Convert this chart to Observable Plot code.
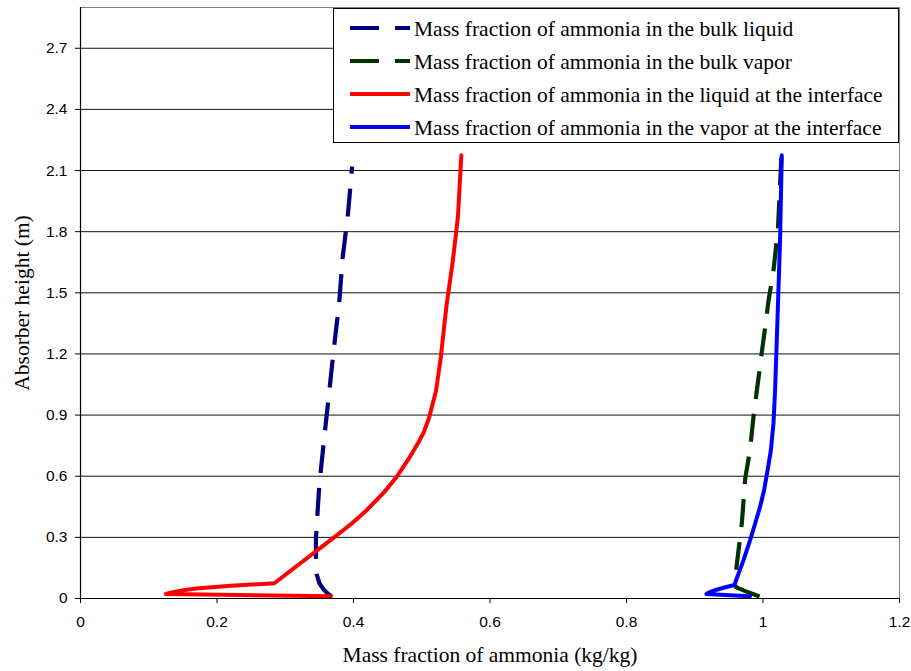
<!DOCTYPE html>
<html>
<head>
<meta charset="utf-8">
<script src="https://cdn.jsdelivr.net/npm/d3@7"></script>
<script src="https://cdn.jsdelivr.net/npm/@observablehq/plot@0.6"></script>
<style>
  html, body { margin: 0; padding: 0; background: #fff; }
  #wrap { position: relative; width: 911px; height: 671px; }
  #legend { position: absolute; left: 333px; top: 8px; }
</style>
</head>
<body>
<div id="wrap"></div>
<script>
// ---- data ----
const xTicks = [0, 0.2, 0.4, 0.6, 0.8, 1, 1.2];
const xTickLabels = ["0", "0.2", "0.4", "0.6", "0.8", "1", "1.2"];
const yTicks = [0, 0.3, 0.6, 0.9, 1.2, 1.5, 1.8, 2.1, 2.4, 2.7];
const yTickLabels = ["0", "0.3", "0.6", "0.9", "1.2", "1.5", "1.8", "2.1", "2.4", "2.7"];

const xTitle = "Mass fraction of ammonia (kg/kg)";
const yTitle = "Absorber height (m)";

const seriesNames = [
  "Mass fraction of ammonia in the bulk liquid",
  "Mass fraction of ammonia in the bulk vapor",
  "Mass fraction of ammonia in the liquid at the interface",
  "Mass fraction of ammonia in the vapor at the interface"
];
const seriesColors = ["#000080", "#003300", "#ff0000", "#0000ff"];
const seriesDash = ["28,15", "28,15", null, null];

// bulk liquid
const liqBulkX = [0.368, 0.362, 0.356, 0.350, 0.346, 0.345, 0.345, 0.350, 0.357, 0.364, 0.371, 0.379, 0.384, 0.392, 0.398];
const liqBulkY = [0.01, 0.025, 0.045, 0.075, 0.12, 0.20, 0.30, 0.56, 0.785, 1.0, 1.22, 1.45, 1.67, 1.89, 2.12];
// bulk vapor
const vapBulkX = [0.995, 0.975, 0.960, 0.961, 0.969, 0.974, 0.981, 0.986, 0.991, 0.996, 1.0045, 1.008, 1.015, 1.018, 1.022, 1.027];
const vapBulkY = [0.01, 0.035, 0.056, 0.15, 0.37, 0.59, 0.73, 0.89, 1.02, 1.15, 1.365, 1.46, 1.60, 1.69, 1.82, 2.17];
// liquid at interface
const liqIntX = [0.367, 0.125, 0.135, 0.15, 0.17, 0.22, 0.284, 0.372, 0.397, 0.419, 0.445, 0.463, 0.481, 0.494, 0.503, 0.511, 0.521, 0.528, 0.536, 0.5456, 0.553, 0.558];
const liqIntY = [0.011, 0.022, 0.031, 0.040, 0.049, 0.062, 0.075, 0.301, 0.367, 0.432, 0.522, 0.596, 0.686, 0.759, 0.816, 0.89, 1.021, 1.185, 1.43, 1.659, 1.872, 2.175];
// vapor at interface
const vapIntX = [0.981, 0.917, 0.923, 0.932, 0.945, 0.958, 0.9713, 0.981, 0.9884, 0.9955, 1.0015, 1.0075, 1.0115, 1.0153, 1.0177, 1.0202, 1.0226, 1.025, 1.0275];
const vapIntY = [0.011, 0.022, 0.033, 0.043, 0.055, 0.066, 0.187, 0.285, 0.367, 0.448, 0.530, 0.645, 0.727, 0.858, 1.021, 1.267, 1.512, 1.757, 2.175];

const seriesX = [liqBulkX, vapBulkX, liqIntX, vapIntX];
const seriesY = [liqBulkY, vapBulkY, liqIntY, vapIntY];

// ---- chart ----
const serif = "'Liberation Serif', 'Times New Roman', serif";
const sans = "'Liberation Sans', Arial, sans-serif";
const titleSize = 21.5;

const lineMarks = seriesX.map((xs, i) =>
  Plot.line(seriesY[i], {
    x: xs,
    y: seriesY[i],
    curve: "linear",
    stroke: seriesColors[i],
    strokeWidth: seriesDash[i] ? 4.2 : 4,
    strokeDasharray: seriesDash[i] || undefined,
    strokeLinejoin: "round",
    strokeLinecap: seriesDash[i] ? "butt" : "round"
  })
);

const chart = Plot.plot({
  width: 911,
  height: 671,
  marginLeft: 80,
  marginRight: 12,
  marginTop: 7,
  marginBottom: 73,
  style: { fontFamily: sans, fontSize: "15.5px", color: "#000", background: "#fff", overflow: "visible" },
  x: { domain: [0, 1.2] },
  y: { domain: [0, 2.9] },
  marks: [
    Plot.frame({ stroke: "#808080" }),
    Plot.ruleY(yTicks.filter(d => d > 0), { stroke: "#111", strokeWidth: 1 }),
    ...lineMarks,
    Plot.ruleX([0], { stroke: "#000", strokeWidth: 1.2 }),
    Plot.ruleY([0], { stroke: "#000", strokeWidth: 1.2 }),
    Plot.axisX({ ticks: xTicks, tickFormat: d => xTickLabels[xTicks.indexOf(d)], tickSize: 5, tickPadding: 12, label: null }),
    Plot.axisY({ ticks: yTicks, tickFormat: d => yTickLabels[yTicks.indexOf(d)], tickSize: 5, tickPadding: 8, label: null }),
    Plot.text([xTitle], { text: d => d, frameAnchor: "bottom", dy: 57, lineAnchor: "middle", textAnchor: "middle", fontFamily: serif, fontSize: titleSize }),
    Plot.text([yTitle], { text: d => d, frameAnchor: "left", dx: -58, rotate: -90, lineAnchor: "middle", textAnchor: "middle", fontFamily: serif, fontSize: titleSize })
  ]
});

const wrap = document.getElementById("wrap");
wrap.appendChild(chart);

// ---- legend (overlay inside plot area) ----
const lw = 565, lh = 134;
const leg = d3.create("svg")
  .attr("id", "legend")
  .attr("width", lw + 1)
  .attr("height", lh + 1);
leg.append("rect")
  .attr("x", 0.5).attr("y", 0.5).attr("width", lw).attr("height", lh)
  .attr("fill", "#fff").attr("stroke", "#000").attr("stroke-width", 1);
seriesNames.forEach((name, i) => {
  const cy = 20 + i * 33;
  leg.append("line")
    .attr("x1", 17).attr("x2", 77).attr("y1", cy).attr("y2", cy)
    .attr("stroke", seriesColors[i])
    .attr("stroke-width", 4)
    .attr("stroke-dasharray", seriesDash[i] ? "29,16" : null)
    .attr("stroke-linecap", "butt");
  leg.append("text")
    .attr("x", 81).attr("y", cy)
    .attr("dy", "0.35em")
    .attr("font-family", serif)
    .attr("font-size", titleSize)
    .attr("fill", "#000")
    .text(name);
});
wrap.appendChild(leg.node());
</script>
</body>
</html>
